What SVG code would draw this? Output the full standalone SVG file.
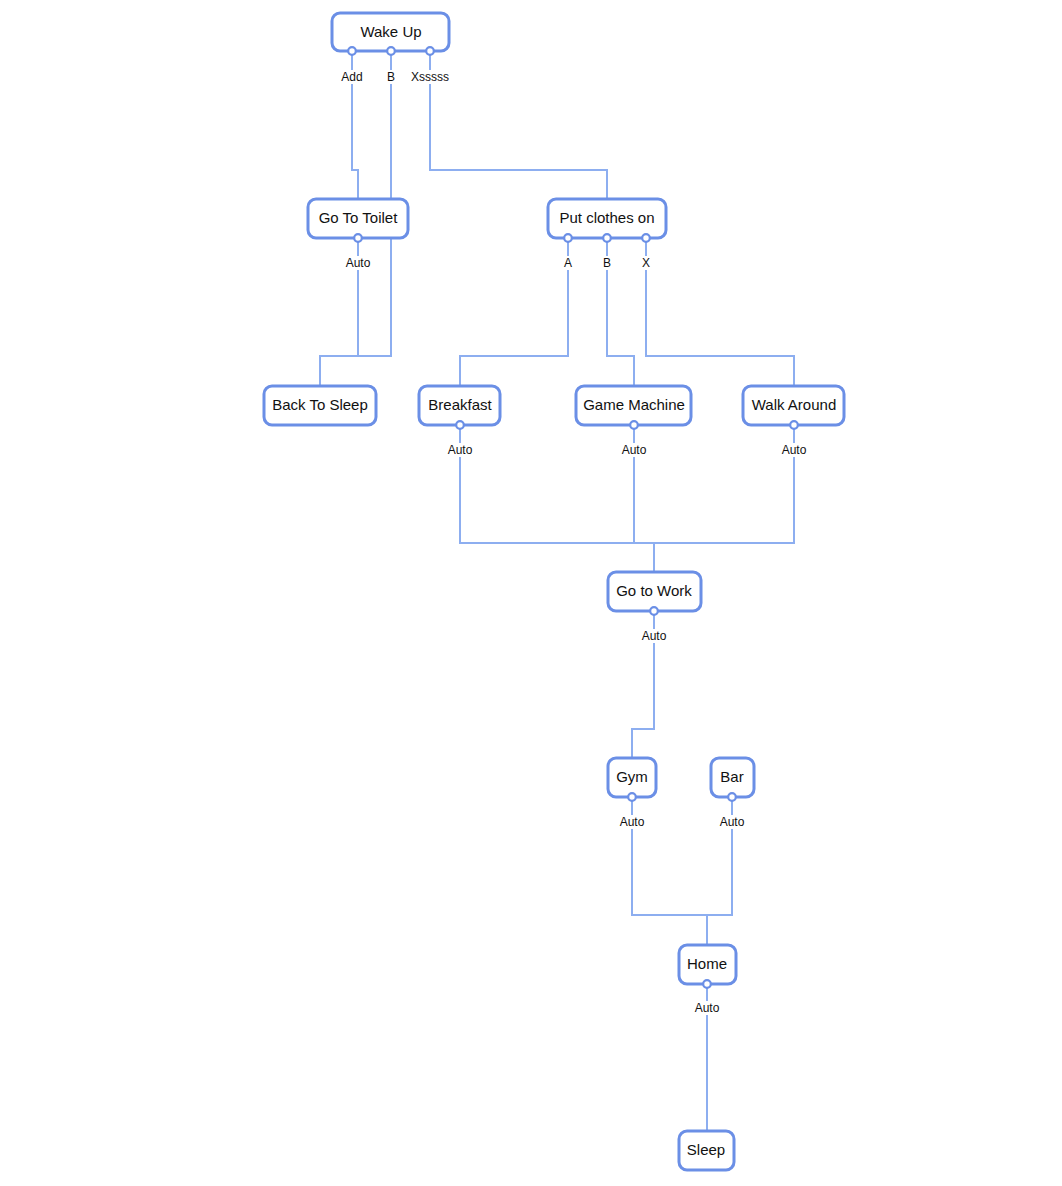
<svg xmlns="http://www.w3.org/2000/svg" width="1062" height="1186" viewBox="0 0 1062 1186">
<style>
.e{fill:none;stroke:#8daef0;stroke-width:2}
.n rect{fill:#fff;stroke:#6b8fe6;stroke-width:3}
.n text{font-family:"Liberation Sans",Arial,sans-serif;font-size:15px;fill:#111;text-anchor:middle}
.p{fill:#fff;stroke:#6b8fe6;stroke-width:2.2}
.lb rect{fill:#fff}
.lb text{font-family:"Liberation Sans",Arial,sans-serif;font-size:12px;fill:#111;text-anchor:middle}
</style>
<rect width="1062" height="1186" fill="#fff"/>
<g id="connectors">
<path class="e" d="M352 51V170H358V199"/>
<path class="e" d="M391 51V356H320V386"/>
<path class="e" d="M430 51V170H607V199"/>
<path class="e" d="M358 238V356H320"/>
<path class="e" d="M568 238V356H460V386"/>
<path class="e" d="M607 238V356H634V386"/>
<path class="e" d="M646 238V356H794V386"/>
<path class="e" d="M460 425V543H654V572"/>
<path class="e" d="M634 425V543H654"/>
<path class="e" d="M794 425V543H654"/>
<path class="e" d="M654 611V729H632V758"/>
<path class="e" d="M632 797V915H707V945"/>
<path class="e" d="M732 797V915H707"/>
<path class="e" d="M707 984V1131"/>
</g>
<g class="lb">
<rect x="338" y="70" width="28" height="14"/><text x="352" y="81">Add</text>
<rect x="385" y="70" width="12" height="14"/><text x="391" y="81">B</text>
<rect x="409" y="70" width="42" height="14"/><text x="430" y="81">Xsssss</text>
<rect x="343" y="256" width="30" height="14"/><text x="358" y="267">Auto</text>
<rect x="562" y="256" width="12" height="14"/><text x="568" y="267">A</text>
<rect x="601" y="256" width="12" height="14"/><text x="607" y="267">B</text>
<rect x="640" y="256" width="12" height="14"/><text x="646" y="267">X</text>
<rect x="445" y="443" width="30" height="14"/><text x="460" y="454">Auto</text>
<rect x="619" y="443" width="30" height="14"/><text x="634" y="454">Auto</text>
<rect x="779" y="443" width="30" height="14"/><text x="794" y="454">Auto</text>
<rect x="639" y="629" width="30" height="14"/><text x="654" y="640">Auto</text>
<rect x="617" y="815" width="30" height="14"/><text x="632" y="826">Auto</text>
<rect x="717" y="815" width="30" height="14"/><text x="732" y="826">Auto</text>
<rect x="692" y="1001" width="30" height="14"/><text x="707" y="1012">Auto</text>
</g>
<g id="wake-up" class="n"><rect x="332" y="13" width="117" height="38" rx="8"/><text x="391" y="37">Wake Up</text>
<circle class="p" cx="352" cy="51" r="3.8"/><circle class="p" cx="391" cy="51" r="3.8"/><circle class="p" cx="430" cy="51" r="3.8"/></g>
<g id="go-to-toilet" class="n"><rect x="308" y="199" width="100" height="39" rx="8"/><text x="358" y="223">Go To Toilet</text>
<circle class="p" cx="358" cy="238" r="3.8"/></g>
<g id="put-clothes-on" class="n"><rect x="548" y="199" width="118" height="39" rx="8"/><text x="607" y="223">Put clothes on</text>
<circle class="p" cx="568" cy="238" r="3.8"/><circle class="p" cx="607" cy="238" r="3.8"/><circle class="p" cx="646" cy="238" r="3.8"/></g>
<g id="back-to-sleep" class="n"><rect x="264" y="386" width="112" height="39" rx="8"/><text x="320" y="410">Back To Sleep</text></g>
<g id="breakfast" class="n"><rect x="419" y="386" width="81" height="39" rx="8"/><text x="460" y="410">Breakfast</text>
<circle class="p" cx="460" cy="425" r="3.8"/></g>
<g id="game-machine" class="n"><rect x="576" y="386" width="115" height="39" rx="8"/><text x="634" y="410">Game Machine</text>
<circle class="p" cx="634" cy="425" r="3.8"/></g>
<g id="walk-around" class="n"><rect x="743" y="386" width="101" height="39" rx="8"/><text x="794" y="410">Walk Around</text>
<circle class="p" cx="794" cy="425" r="3.8"/></g>
<g id="go-to-work" class="n"><rect x="608" y="572" width="93" height="39" rx="8"/><text x="654" y="596">Go to Work</text>
<circle class="p" cx="654" cy="611" r="3.8"/></g>
<g id="gym" class="n"><rect x="608" y="758" width="48" height="39" rx="8"/><text x="632" y="782">Gym</text>
<circle class="p" cx="632" cy="797" r="3.8"/></g>
<g id="bar" class="n"><rect x="711" y="758" width="43" height="39" rx="8"/><text x="732" y="782">Bar</text>
<circle class="p" cx="732" cy="797" r="3.8"/></g>
<g id="home" class="n"><rect x="679" y="945" width="57" height="39" rx="8"/><text x="707" y="969">Home</text>
<circle class="p" cx="707" cy="984" r="3.8"/></g>
<g id="sleep" class="n"><rect x="679" y="1131" width="55" height="39" rx="8"/><text x="706" y="1155">Sleep</text></g>
</svg>
